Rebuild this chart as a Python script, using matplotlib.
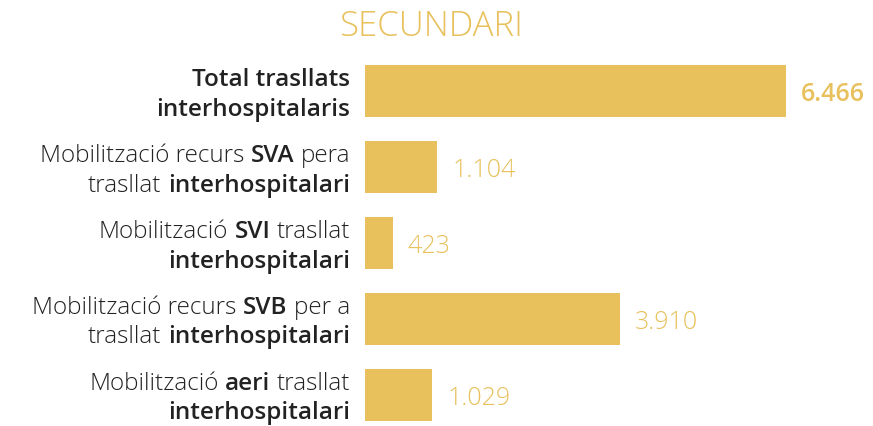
import matplotlib
matplotlib.use("Agg")
import matplotlib.pyplot as plt
from matplotlib.transforms import IdentityTransform

title = "SECUNDARI"
values = [6466, 1104, 423, 3910, 1029]
# each label: list of lines, each line a list of (text, is_bold)
labels = [
    [[("Total trasllats", True)], [("interhospitalaris", True)]],
    [[("Mobilització recurs ", False), ("SVA", True), (" pera", False)],
     [("trasllat ", False), ("interhospitalari", True)]],
    [[("Mobilització ", False), ("SVI", True), (" trasllat", False)],
     [("interhospitalari", True)]],
    [[("Mobilització recurs ", False), ("SVB", True), (" per a", False)],
     [("trasllat ", False), ("interhospitalari", True)]],
    [[("Mobilització ", False), ("aeri", True), (" trasllat", False)],
     [("interhospitalari", True)]],
]

GOLD = "#E8C05C"
DARK = "#222222"
FONT = "Open Sans"
REG = "light"
BOLD = "semibold"
W, H, DPI = 873, 427, 100

fig = plt.figure(figsize=(W / DPI, H / DPI), dpi=DPI)
fig.patch.set_facecolor("white")
ax = fig.add_axes([365 / W, 0, 1 - 365 / W, 1])
ax.set_axis_off()

ys = list(range(len(values)))
ax.barh(ys, values, height=0.684, color=GOLD)
ax.set_xlim(0, max(values) * (W - 365) / 421)
ax.set_ylim((H - 92) / 76, -92 / 76)

for i, v in enumerate(values):
    txt = f"{v:,}".replace(",", ".")
    ax.annotate(txt, (v, i), xytext=(11, -2), textcoords="offset points",
                va="center", ha="left", color=GOLD, fontsize=18,
                family=FONT, fontweight=BOLD if i == 0 else REG)

fig.text(0.494, 1 - 27 / H, title, ha="center", va="center", color=GOLD,
         fontsize=25, family=FONT, fontweight=REG)

renderer = fig.canvas.get_renderer()
LSIZE = 17.5


def width_of(s, bold):
    t = fig.text(0, 0, s, fontsize=LSIZE, family=FONT,
                 fontweight=BOLD if bold else REG)
    w = t.get_window_extent(renderer).width
    t.remove()
    return w


sp_w = {b: width_of("a a", b) - width_of("aa", b) for b in (True, False)}

right_px = 350
for i, lines in enumerate(labels):
    yc_disp = ax.transData.transform((0, i))[1]
    offsets = [14.5, -14.5]
    for li, segs in enumerate(lines):
        ypix = yc_disp + offsets[li]
        x = right_px
        for text, bold in reversed(segs):
            core = text.strip()
            trail = len(text) - len(text.rstrip())
            lead = len(text) - len(text.lstrip())
            x -= trail * sp_w[bold]
            fig.text(x, ypix, core, transform=IdentityTransform(),
                     ha="right", va="center_baseline", fontsize=LSIZE,
                     family=FONT, color=DARK,
                     fontweight=BOLD if bold else REG)
            x -= width_of(core, bold)
            x -= lead * sp_w[bold]

fig.savefig("out.png", dpi=DPI, facecolor="white")
